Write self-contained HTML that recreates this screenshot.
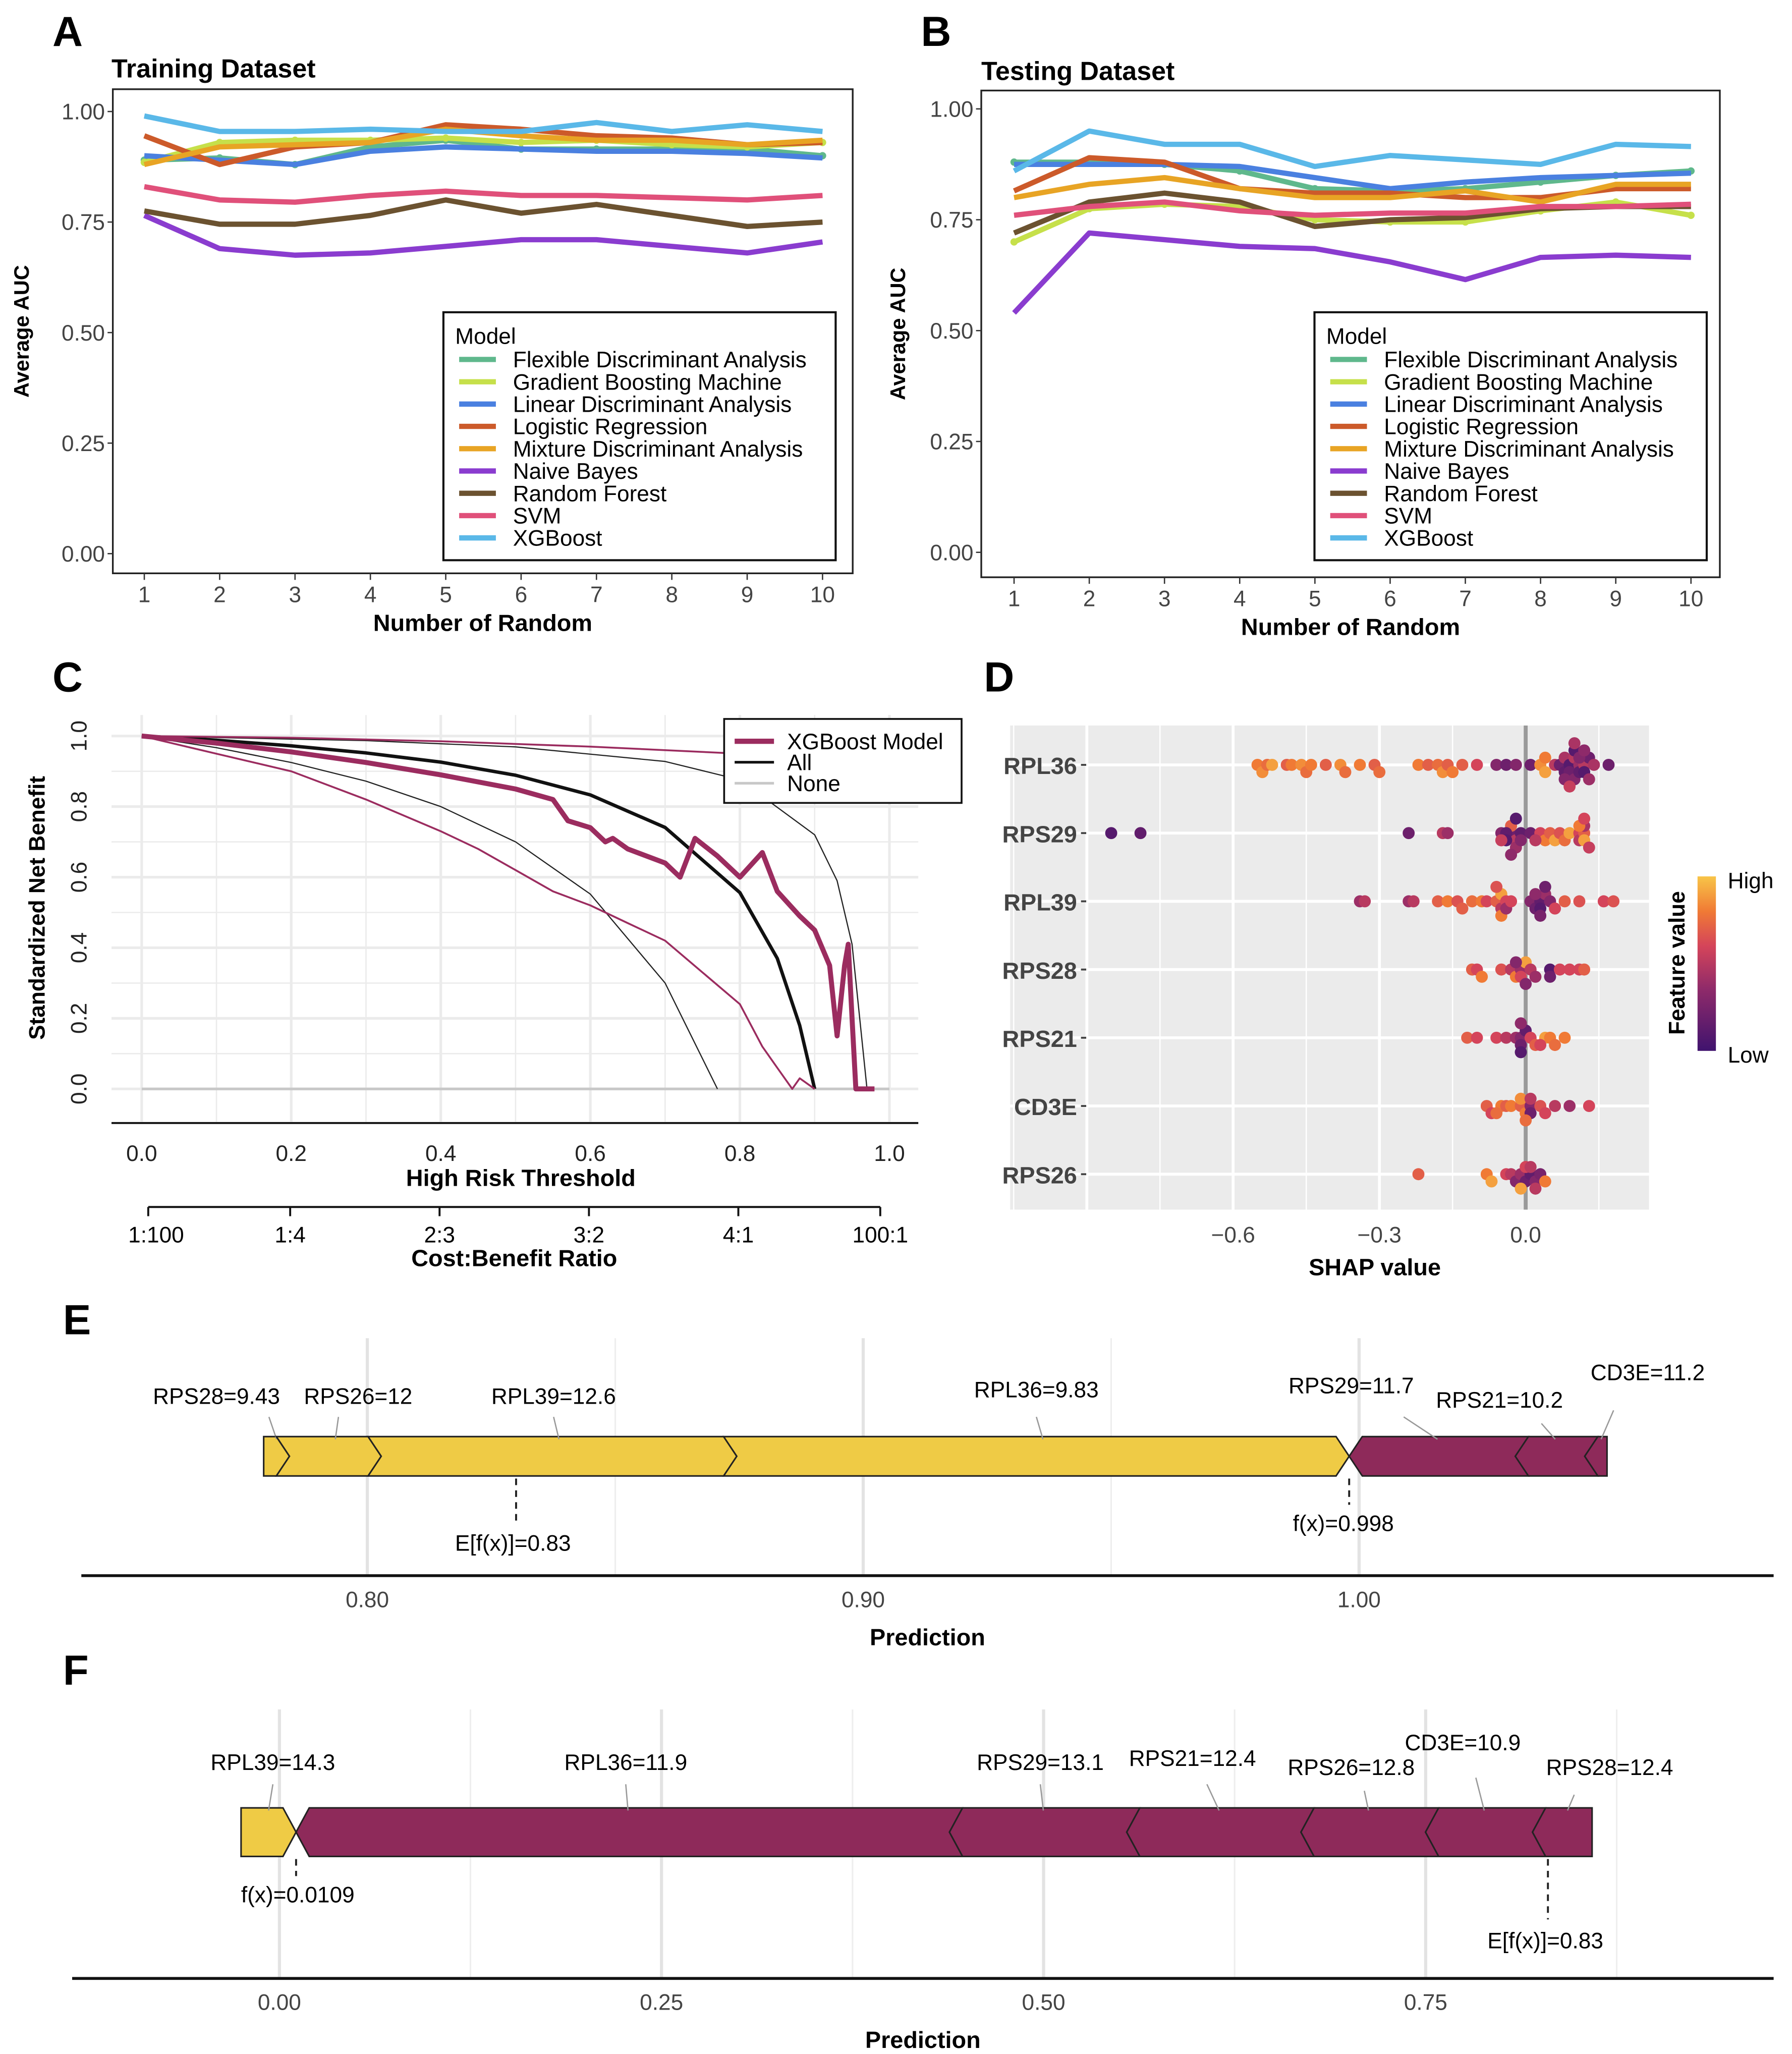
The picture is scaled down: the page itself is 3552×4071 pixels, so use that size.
<!DOCTYPE html>
<html><head><meta charset="utf-8">
<style>
html,body{margin:0;padding:0;background:#fff;}
svg{display:block;font-family:"Liberation Sans",Arial,sans-serif;}
.b{font-weight:bold;}
</style></head>
<body>
<svg id="fig" width="3552" height="4071" viewBox="0 0 1366 1565.6" xmlns="http://www.w3.org/2000/svg">
<rect x="0" y="0" width="1366" height="1566" fill="#fff"/>
<text x="40" y="35" font-size="32" class="b">A</text>
<text x="702" y="35" font-size="32" class="b">B</text>
<text x="40" y="527" font-size="32" class="b">C</text>
<text x="750" y="527" font-size="32" class="b">D</text>
<text x="48" y="1017" font-size="32" class="b">E</text>
<text x="48" y="1284" font-size="32" class="b">F</text>

<text x="85" y="59" font-size="20" class="b">Training Dataset</text>
<text x="748" y="61" font-size="20" class="b">Testing Dataset</text>
<g id="gA"></g>
<g id="gB"></g>
<g id="gC"></g>
<g id="gD"></g>
<g id="gE"></g>
<g id="gF"></g>
</svg>
<script>
var NS='http://www.w3.org/2000/svg';
function mk(tag,attrs,parent,txt){var e=document.createElementNS(NS,tag);for(var k in attrs)e.setAttribute(k,attrs[k]);if(txt!==undefined)e.textContent=txt;parent.appendChild(e);return e;}

// ===== Panels A & B data =====
var models=['Flexible Discriminant Analysis','Gradient Boosting Machine','Linear Discriminant Analysis','Logistic Regression','Mixture Discriminant Analysis','Naive Bayes','Random Forest','SVM','XGBoost'];
var modelColors=['#5fb88c','#c6e04a','#4a80e0','#cc5a2a','#e8a424','#8a3ccf','#6b5230','#e0507a','#5ab8e8'];
var randIdx=[1,2,3,4,5,6,7,8,9,10];
var yTicks=[0,0.25,0.5,0.75,1.0];
var yTickLabels=['0.00','0.25','0.50','0.75','1.00'];
var trainFDA=[0.89,0.895,0.88,0.92,0.935,0.915,0.915,0.915,0.915,0.90];
var trainGBM=[0.885,0.93,0.935,0.935,0.94,0.93,0.935,0.925,0.92,0.93];
var trainLDA=[0.90,0.89,0.88,0.91,0.92,0.915,0.91,0.91,0.905,0.895];
var trainLR=[0.945,0.88,0.92,0.93,0.97,0.96,0.945,0.94,0.925,0.93];
var trainMDA=[0.88,0.92,0.925,0.93,0.96,0.945,0.935,0.935,0.925,0.935];
var trainNB=[0.765,0.69,0.675,0.68,0.695,0.71,0.71,0.695,0.68,0.705];
var trainRF=[0.775,0.745,0.745,0.765,0.80,0.77,0.79,0.765,0.74,0.75];
var trainSVM=[0.83,0.80,0.795,0.81,0.82,0.81,0.81,0.805,0.80,0.81];
var trainXGB=[0.99,0.955,0.955,0.96,0.955,0.955,0.975,0.955,0.97,0.955];
var testFDA=[0.88,0.88,0.875,0.86,0.82,0.815,0.82,0.835,0.85,0.86];
var testGBM=[0.70,0.775,0.785,0.78,0.75,0.745,0.745,0.77,0.79,0.76];
var testLDA=[0.875,0.875,0.875,0.87,0.845,0.82,0.835,0.845,0.85,0.855];
var testLR=[0.815,0.89,0.88,0.82,0.81,0.81,0.80,0.80,0.82,0.82];
var testMDA=[0.80,0.83,0.845,0.82,0.80,0.80,0.815,0.79,0.83,0.83];
var testNB=[0.54,0.72,0.705,0.69,0.685,0.655,0.615,0.665,0.67,0.665];
var testRF=[0.72,0.79,0.81,0.79,0.735,0.75,0.755,0.775,0.78,0.78];
var testSVM=[0.76,0.78,0.79,0.77,0.76,0.765,0.765,0.78,0.78,0.785];
var testXGB=[0.86,0.95,0.92,0.92,0.87,0.895,0.885,0.875,0.92,0.915];

function aucPanel(g,box,x1px,x10px,y0px,y1px,series,legX,titleX){
  var xs=function(v){return x1px+(v-1)*(x10px-x1px)/9;};
  var ys=function(v){return y0px+(y1px-y0px)*v;};
  var r=mk('rect',{x:box[0],y:box[1],width:box[2]-box[0],height:box[3]-box[1],fill:'none',stroke:'#222','stroke-width':1.3},g);
  
  
  yTicks.forEach(function(t,i){
    var tk=mk('line',{x1:box[0]-4,x2:box[0],y1:ys(t),y2:ys(t),stroke:'#333'},g);
    
    
    var tl=mk('text',{x:box[0]-6,y:ys(t)+6,'font-size':17,'text-anchor':'end',fill:'#444'},g,yTickLabels[i]);
    
    
  });
  randIdx.forEach(function(v){
    var tk=mk('line',{x1:xs(v),x2:xs(v),y1:box[3],y2:box[3]+5,stroke:'#333'},g);
    
    
    var tl=mk('text',{x:xs(v),y:box[3]+22,'font-size':17,'text-anchor':'middle',fill:'#444'},g,String(v));
    
    
  });
  var xt=mk('text',{x:(box[0]+box[2])/2,y:box[3]+44,'font-size':18,'text-anchor':'middle','font-weight':'bold'},g,'Number of Random');
  
  
  var yt=mk('text',{x:0,y:0,'font-size':16,'text-anchor':'middle','font-weight':'bold',transform:'translate('+titleX+','+((box[1]+box[3])/2)+') rotate(-90)'},g,'Average AUC');
  
  
  series.forEach(function(s,si){
    var d=s.map(function(v,i){return (i?'L':'M')+xs(randIdx[i]).toFixed(1)+','+ys(v).toFixed(1);}).join('');
    var p=mk('path',{d:d,fill:'none',stroke:modelColors[si],'stroke-width':4,'stroke-linejoin':'round'},g);
    
    
    if(si<2){s.forEach(function(v,i){
      var c=mk('circle',{cx:xs(randIdx[i]),cy:ys(v),r:2.8,fill:modelColors[si]},g);
      
      
    });}
  });
  var lg=mk('g',{},g);
  
  
  mk('rect',{x:legX,y:238,width:299,height:189,fill:'#fff',stroke:'#111','stroke-width':1.6},lg);
  mk('text',{x:legX+9,y:262,'font-size':17},lg,'Model');
  models.forEach(function(m,i){
    var yy=274+i*17;
    var sw=mk('line',{x1:legX+12,x2:legX+40,y1:yy,y2:yy,stroke:modelColors[i],'stroke-width':4},lg);
    
    
    var t=mk('text',{x:legX+53,y:yy+6,'font-size':17},lg,m);
    
    
  });
}
aucPanel(document.getElementById('gA'),[86,68,650,437],110,627,422,85,[trainFDA,trainGBM,trainLDA,trainLR,trainMDA,trainNB,trainRF,trainSVM,trainXGB],338,22);
aucPanel(document.getElementById('gB'),[748,69,1311,440],773,1289,421,83,[testFDA,testGBM,testLDA,testLR,testMDA,testNB,testRF,testSVM,testXGB],1002,690);

// ===== Panel C =====
var thrModel=[0,0.1,0.2,0.3,0.4,0.5,0.55,0.57,0.6,0.62,0.63,0.65,0.7,0.72,0.74,0.77,0.8,0.83,0.85,0.88,0.9,0.92,0.93,0.94,0.945,0.95,0.955,0.98];
var nbModel=[1.0,0.98,0.955,0.925,0.89,0.85,0.82,0.76,0.74,0.70,0.71,0.68,0.64,0.60,0.71,0.66,0.60,0.67,0.56,0.49,0.45,0.35,0.15,0.35,0.41,0.20,0.0,0.0];
var thrUpper=[0,0.2,0.4,0.6,0.8,0.83];
var nbUpper=[1.0,0.995,0.985,0.97,0.95,0.945];
var thrLower=[0,0.1,0.2,0.3,0.4,0.45,0.5,0.55,0.6,0.65,0.7,0.75,0.8,0.83,0.85,0.87,0.88,0.9];
var nbLower=[1.0,0.95,0.9,0.82,0.73,0.68,0.62,0.56,0.52,0.47,0.42,0.33,0.24,0.12,0.06,0.0,0.03,0.0];
var thrAll=[0,0.1,0.2,0.3,0.4,0.5,0.6,0.7,0.8,0.85,0.88,0.9];
var nbAll=[1,0.988,0.972,0.952,0.926,0.889,0.833,0.741,0.556,0.37,0.18,0.0];
var thrAllLo=[0,0.1,0.2,0.3,0.4,0.5,0.6,0.7,0.77];
var nbAllLo=[1,0.967,0.925,0.872,0.80,0.70,0.552,0.30,0.0];
var thrAllHi=[0,0.3,0.5,0.7,0.8,0.9,0.93,0.95,0.97];
var nbAllHi=[1,0.987,0.969,0.928,0.876,0.72,0.59,0.41,0.0];
var thrNone=[0,1];
var nbNone=[0,0];
var cTicks=[0,0.2,0.4,0.6,0.8,1.0];
var cTickLabels=['0.0','0.2','0.4','0.6','0.8','1.0'];
var cbTicks=[0.01,0.2,0.4,0.6,0.8,0.99];
var cbLabels=['1:100','1:4','2:3','3:2','4:1','100:1'];
(function(){
  var g=document.getElementById('gC');
  var xs=function(v){return 108+570*v;}, ys=function(v){return 830-269*v;};
  for(var v=0;v<=1.0001;v+=0.1){
    var gl=mk('line',{x1:85,x2:700,y1:ys(v),y2:ys(v),stroke:'#ebebeb','stroke-width':(Math.round(v*10)%2?1:2)},g);
    
    
    var gv=mk('line',{x1:xs(v),x2:xs(v),y1:545,y2:855,stroke:'#ebebeb','stroke-width':(Math.round(v*10)%2?1:2)},g);
    
    
  }
  cTicks.forEach(function(t,i){
    var yl=mk('text',{x:0,y:0,'font-size':17,'text-anchor':'middle',fill:'#222',transform:'translate(66,'+ys(t)+') rotate(-90)'},g,cTickLabels[i]);
    
    
    var xl=mk('text',{x:xs(t),y:885,'font-size':17,'text-anchor':'middle',fill:'#222'},g,cTickLabels[i]);
    
    
  });
  var ax=mk('line',{x1:85,x2:700,y1:856,y2:856,stroke:'#111','stroke-width':1.5},g);
  
  
  function line(tx,ty,col,w,name){
    var d=tx.map(function(t,i){return (i?'L':'M')+xs(t).toFixed(1)+','+ys(ty[i]).toFixed(1);}).join('');
    var p=mk('path',{d:d,fill:'none',stroke:col,'stroke-width':w,'stroke-linejoin':'round'},g);
    
    
  }
  line(thrNone,nbNone,'#c8c8c8',2,'none-line');
  line(thrAllLo,nbAllLo,'#222',0.9,'all-ci-lower');
  line(thrAllHi,nbAllHi,'#222',0.9,'all-ci-upper');
  line(thrAll,nbAll,'#111',2.6,'all-line');
  line(thrUpper,nbUpper,'#9b2c5f',1.4,'model-ci-upper');
  line(thrLower,nbLower,'#9b2c5f',1.4,'model-ci-lower');
  line(thrModel,nbModel,'#9b2c5f',3.8,'xgboost-model-line');
  var yt=mk('text',{x:0,y:0,'font-size':17,'text-anchor':'middle','font-weight':'bold',transform:'translate(34,692) rotate(-90)'},g,'Standardized Net Benefit');
  
  
  var xt=mk('text',{x:397,y:904,'font-size':18,'text-anchor':'middle','font-weight':'bold'},g,'High Risk Threshold');
  
  
  mk('line',{x1:113,x2:671,y1:920,y2:920,stroke:'#111','stroke-width':1.5},g);
  cbTicks.forEach(function(t,i){
    var x=113+(t-0.01)*558/0.98;
    mk('line',{x1:x,x2:x,y1:920,y2:927,stroke:'#111','stroke-width':1.5},g);
    var l=mk('text',{x:x+(i==0?6:0),y:947,'font-size':17,'text-anchor':'middle'},g,cbLabels[i]);
    
    
  });
  var ct=mk('text',{x:392,y:965,'font-size':18,'text-anchor':'middle','font-weight':'bold'},g,'Cost:Benefit Ratio');
  
  
  var lg=mk('g',{},g);
  
  
  mk('rect',{x:552,y:548,width:181,height:64,fill:'#fff',stroke:'#111','stroke-width':1.4},lg);
  [['XGBoost Model','#9b2c5f',4],['All','#111',2],['None','#c8c8c8',2]].forEach(function(e,i){
    var yy=565+i*16;
    mk('line',{x1:560,x2:590,y1:yy,y2:yy,stroke:e[1],'stroke-width':e[2]},lg);
    var t=mk('text',{x:600,y:yy+6,'font-size':17},lg,e[0]);
    
    
  });
})();

// ===== Panel D =====
var features=['RPL36','RPS29','RPL39','RPS28','RPS21','CD3E','RPS26'];
var shapRPL36=[[-0.55,.8],[-0.54,.85],[-0.53,.75],[-0.52,.9],[-0.49,.7],[-0.48,.8],[-0.46,.85],[-0.45,.75],[-0.44,.8],[-0.41,.7],[-0.38,.85],[-0.37,.75],[-0.34,.8],[-0.31,.7],[-0.30,.75],[-0.22,.8],[-0.2,.7],[-0.18,.75],[-0.17,.85],[-0.16,.7],[-0.15,.8],[-0.13,.7],[-0.1,.6],[-0.06,.3],[-0.04,.2],[-0.02,.3],[0.01,.2],[0.03,.85],[0.04,.9],[0.04,.8],[0.06,.5],[0.07,.2],[0.08,.15],[0.08,.45],[0.09,.1],[0.09,.2],[0.10,.5],[0.10,.3],[0.10,.1],[0.11,.4],[0.11,.15],[0.12,.5],[0.12,.1],[0.13,.2],[0.13,.4],[0.08,.3],[0.09,.55],[0.11,.3],[0.10,.45],[0.12,.35],[0.14,.45],[0.17,.2]];
var shapRPS29=[[-0.85,.1],[-0.79,.15],[-0.24,.2],[-0.17,.5],[-0.16,.4],[-0.05,.3],[-0.03,.2],[-0.02,.5],[-0.01,.15],[-0.03,.7],[0.01,.2],[-0.02,.4],[-0.04,.15],[-0.04,.1],[-0.05,.55],[-0.01,.3],[-0.02,.1],[0.03,.6],[0.04,.8],[0.05,.7],[0.06,.9],[0.07,.65],[0.08,.75],[0.09,.9],[0.11,.6],[0.11,.5],[0.12,.7],[0.12,.9],[0.12,.45],[0.13,.55],[0.11,.8],[0.12,.6],[-0.03,.35],[0.02,.5]];
var shapRPL39=[[-0.34,.4],[-0.33,.5],[-0.24,.4],[-0.23,.5],[-0.18,.7],[-0.16,.8],[-0.14,.65],[-0.13,.7],[-0.11,.75],[-0.09,.8],[-0.08,.6],[-0.06,.7],[-0.05,.5],[-0.05,.9],[-0.04,.6],[-0.05,.8],[-0.04,.4],[-0.06,.65],[-0.03,.6],[0.01,.3],[0.02,.2],[0.03,.15],[0.03,.1],[0.04,.4],[0.05,.3],[0.03,.25],[0.06,.6],[0.08,.7],[0.11,.65],[0.16,.6],[0.18,.65],[0.02,.35],[0.04,.2]];
var shapRPS28=[[-0.11,.7],[-0.1,.6],[-0.09,.8],[-0.05,.65],[-0.03,.5],[-0.02,.8],[-0.01,.4],[-0.01,.6],[0.0,.9],[0.01,.5],[0.02,.4],[0.05,.1],[0.05,.2],[0.07,.6],[0.09,.6],[0.11,.6],[0.12,.7],[-0.02,.3],[0.0,.3]];
var shapRPS21=[[-0.12,.7],[-0.1,.6],[-0.06,.6],[-0.04,.5],[-0.02,.4],[-0.01,.3],[-0.01,.2],[0.0,.15],[-0.01,.1],[0.01,.6],[0.02,.7],[0.04,.9],[0.05,.8],[0.06,.75],[0.08,.8],[0.03,.6],[-0.01,.35]];
var shapCD3E=[[-0.08,.7],[-0.07,.6],[-0.05,.8],[-0.04,.7],[-0.03,.8],[-0.01,.7],[0.0,.8],[-0.01,.85],[0.01,.3],[0.01,.2],[0.01,.5],[0.03,.65],[0.04,.6],[0.06,.5],[0.09,.4],[0.13,.6],[-0.06,.75],[0.0,.75]];
var shapRPS26=[[-0.22,.7],[-0.08,.8],[-0.07,.9],[-0.04,.6],[-0.03,.5],[-0.02,.3],[-0.01,.4],[0.0,.2],[0.01,.15],[0.02,.3],[0.03,.25],[0.04,.8],[0.0,.6],[0.01,.5],[-0.01,.9],[0.02,.5]];
var shapTicks=[-0.6,-0.3,0.0];
var shapTickLabels=['\u22120.6','\u22120.3','0.0'];
function plasma(t){
  var st=[[0,[64,19,110]],[0.35,[142,42,106]],[0.6,[212,68,90]],[0.8,[240,122,53]],[1,[248,197,72]]];
  for(var i=1;i<st.length;i++){if(t<=st[i][0]){var a=st[i-1],b=st[i],f=(t-a[0])/(b[0]-a[0]);return 'rgb('+[0,1,2].map(function(k){return Math.round(a[1][k]+(b[1][k]-a[1][k])*f);}).join(',')+')';}}
  return 'rgb(248,197,72)';
}
(function(){
  var g=document.getElementById('gD');
  var xs=function(v){return 1163+371.7*v;};
  var rows=[shapRPL36,shapRPS29,shapRPL39,shapRPS28,shapRPS21,shapCD3E,shapRPS26];
  var rowY=function(i){return 583+52*i;};
  var bg=mk('rect',{x:770,y:553,width:487,height:369,fill:'#ebebeb'},g);
  
  
  for(var v=-1.05;v<=0.25;v+=0.15){
    var major=Math.abs(Math.round(v/0.15))%2==0;
    mk('line',{x1:xs(v),x2:xs(v),y1:553,y2:922,stroke:'#fff','stroke-width':major?2.2:1},g);
  }
  features.forEach(function(f,i){
    mk('line',{x1:770,x2:1257,y1:rowY(i),y2:rowY(i),stroke:'#fff','stroke-width':2.2},g);
    var l=mk('text',{x:821,y:rowY(i)+7,'font-size':18,'text-anchor':'end','font-weight':'bold',fill:'#444'},g,f);
    
    
    mk('line',{x1:824,x2:828,y1:rowY(i),y2:rowY(i),stroke:'#444','stroke-width':1.5},g);
  });
  var z=mk('line',{x1:xs(0),x2:xs(0),y1:553,y2:922,stroke:'#999','stroke-width':3},g);
  
  
  rows.forEach(function(row,ri){
    var bins={};
    row.forEach(function(p){
      var x=xs(p[0]);var b=Math.round(x/7);var k=bins[b]||0;bins[b]=k+1;
      var off=(k%2?1:-1)*Math.ceil(k/2)*5.5;
      var c=mk('circle',{cx:x,cy:rowY(ri)+off,r:4.6,fill:plasma(p[1])},g);
      
      
    });
  });
  shapTicks.forEach(function(t,i){
    var l=mk('text',{x:xs(t),y:947,'font-size':17,'text-anchor':'middle',fill:'#444'},g,shapTickLabels[i]);
    
    
  });
  var xt=mk('text',{x:1048,y:972,'font-size':18,'text-anchor':'middle','font-weight':'bold'},g,'SHAP value');
  
  
  var defs=mk('defs',{},g);
  var lgr=mk('linearGradient',{id:'cbar',x1:0,y1:1,x2:0,y2:0},defs);
  [0,0.35,0.6,0.8,1].forEach(function(s){mk('stop',{offset:s,'stop-color':plasma(s)},lgr);});
  var cb=mk('rect',{x:1294,y:668,width:14,height:133,fill:'url(#cbar)'},g);
  
  
  mk('text',{x:1317,y:677,'font-size':17},g,'High');
  mk('text',{x:1317,y:810,'font-size':17},g,'Low');
  var ct=mk('text',{x:0,y:0,'font-size':17,'text-anchor':'middle','font-weight':'bold',transform:'translate(1284,734) rotate(-90)'},g,'Feature value');
  
  
})();

// ===== Force plots =====
var eFeatPos=['RPS28=9.43','RPS26=12','RPL39=12.6','RPL36=9.83'];
var eValPos=[0.0052,0.0185,0.0717,0.1235];
var eFeatNeg=['RPS29=11.7','RPS21=10.2','CD3E=11.2'];
var eValNeg=[0.0335,0.014,0.0045];
var eFx=0.998, eBase=0.83;
var eTicks=[0.80,0.90,1.00], eTickLabels=['0.80','0.90','1.00'];
var fFeatPos=['RPL39=14.3'];
var fValPos=[0.036];
var fFeatNeg=['RPL36=11.9','RPS29=13.1','RPS21=12.4','RPS26=12.8','CD3E=10.9','RPS28=12.4'];
var fValNeg=[0.4275,0.116,0.114,0.0815,0.070,0.039];
var fFx=0.0109, fBase=0.83;
var fTicks=[0,0.25,0.5,0.75], fTickLabels=['0.00','0.25','0.50','0.75'];

function forcePlot(g,xs,top,bot,axisY,axisX0,axisX1,fx,base,featPos,valPos,featNeg,valNeg,ticks,tickLabels,minor,labelPos,fxLabel,baseLabel){
  var mid=(top+bot)/2,h=10;
  minor.forEach(function(t){mk('line',{x1:xs(t),x2:xs(t),y1:top-75,y2:axisY,stroke:'#eeeeee','stroke-width':1.2},g);});
  ticks.forEach(function(t){mk('line',{x1:xs(t),x2:xs(t),y1:top-75,y2:axisY,stroke:'#e3e3e3','stroke-width':2.4},g);});
  var total=valPos.reduce(function(a,b){return a+b;},0);
  var cur=fx-total;
  valPos.forEach(function(v,i){
    var x0=xs(cur),x1=xs(cur+v);cur+=v;
    var pts=i==0?[[x0,top],[x1-h,top],[x1,mid],[x1-h,bot],[x0,bot]]:[[x0-h,top],[x1-h,top],[x1,mid],[x1-h,bot],[x0-h,bot],[x0,mid]];
    var p=mk('polygon',{points:pts.map(function(q){return q.join(',');}).join(' '),fill:'#efcb45',stroke:'#222','stroke-width':1.2},g);
    
    
    var lp=labelPos[featPos[i]];
    mk('line',{x1:(x0+x1)/2,y1:top+2,x2:lp[2],y2:lp[3],stroke:'#999','stroke-width':1},g);
    var t=mk('text',{x:lp[0],y:lp[1],'font-size':17,'text-anchor':'middle'},g,featPos[i]);
    
    
  });
  cur=fx;
  valNeg.forEach(function(v,i){
    var x0=xs(cur),x1=xs(cur+v);cur+=v;
    var last=i==valNeg.length-1;
    var pts=last?[[x0,mid],[x0+h,top],[x1,top],[x1,bot],[x0+h,bot]]:[[x0,mid],[x0+h,top],[x1+h,top],[x1,mid],[x1+h,bot],[x0+h,bot]];
    var p=mk('polygon',{points:pts.map(function(q){return q.join(',');}).join(' '),fill:'#8e2a5a',stroke:'#222','stroke-width':1.2},g);
    
    
    var lp=labelPos[featNeg[i]];
    mk('line',{x1:(x0+x1)/2+4,y1:top+2,x2:lp[2],y2:lp[3],stroke:'#999','stroke-width':1},g);
    var t=mk('text',{x:lp[0],y:lp[1],'font-size':17,'text-anchor':'middle'},g,featNeg[i]);
    
    
  });
  mk('line',{x1:xs(base),x2:xs(base),y1:bot+2,y2:baseLabel[1]-22,stroke:'#222','stroke-width':1.5,'stroke-dasharray':'5,4'},g);
  var bl=mk('text',{x:baseLabel[0],y:baseLabel[1],'font-size':17,'text-anchor':'middle'},g,'E[f(x)]='+base);
  
  
  mk('line',{x1:xs(fx),x2:xs(fx),y1:bot+2,y2:fxLabel[1]-20,stroke:'#222','stroke-width':1.5,'stroke-dasharray':'5,4'},g);
  var fl=mk('text',{x:fxLabel[0],y:fxLabel[1],'font-size':17,'text-anchor':'middle'},g,'f(x)='+fx);
  
  
  var ax=mk('line',{x1:axisX0,x2:axisX1,y1:axisY,y2:axisY,stroke:'#111','stroke-width':2.2},g);
  
  
  ticks.forEach(function(t,i){
    var l=mk('text',{x:xs(t),y:axisY+24,'font-size':17,'text-anchor':'middle',fill:'#444'},g,tickLabels[i]);
    
    
  });
  var xt=mk('text',{x:(axisX0+axisX1)/2,y:axisY+53,'font-size':18,'text-anchor':'middle','font-weight':'bold'},g,'Prediction');
  
  
}
forcePlot(document.getElementById('gE'),function(v){return 280+(v-0.8)*3780;},1095,1125,1201,62,1352,eFx,eBase,eFeatPos,eValPos,eFeatNeg,eValNeg,eTicks,eTickLabels,[0.85,0.95],
 {'RPS28=9.43':[165,1070,205,1080],'RPS26=12':[273,1070,258,1080],'RPL39=12.6':[422,1070,422,1080],'RPL36=9.83':[790,1065,790,1080],'RPS29=11.7':[1030,1062,1070,1080],'RPS21=10.2':[1143,1073,1175,1085],'CD3E=11.2':[1256,1052,1230,1075]},
 [1024,1167,false],[391,1182]);
forcePlot(document.getElementById('gF'),function(v){return 213+v*1165;},1378,1415,1508,55,1352,fFx,fBase,fFeatPos,fValPos,fFeatNeg,fValNeg,fTicks,fTickLabels,[0.125,0.375,0.625,0.875],
 {'RPL39=14.3':[208,1349,208,1360],'RPL36=11.9':[477,1349,477,1360],'RPS29=13.1':[793,1349,793,1360],'RPS21=12.4':[909,1346,920,1360],'RPS26=12.8':[1030,1353,1040,1365],'CD3E=10.9':[1115,1334,1125,1355],'RPS28=12.4':[1227,1353,1200,1368]},
 [227,1450,false],[1178,1485]);
</script>
</body></html>
